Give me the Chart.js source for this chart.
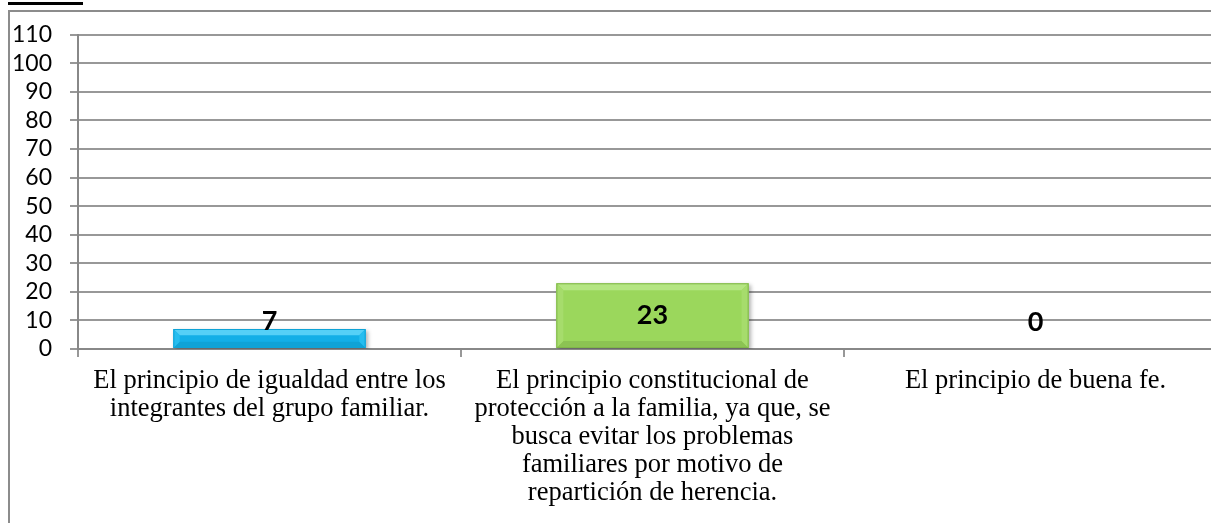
<!DOCTYPE html>
<html>
<head>
<meta charset="utf-8">
<script src="https://cdn.jsdelivr.net/npm/chart.js@4.4.1/dist/chart.umd.min.js"></script>
<style>
  html, body { margin: 0; padding: 0; background: #ffffff; overflow: hidden; width: 1211px; height: 523px; }
  #topbar { position: absolute; left: 8px; top: 2px; width: 75px; height: 3px; background: #000; }
  #frame { position: absolute; left: 8px; top: 10px; width: 1260px; height: 560px; border: 2px solid #8c8c8c; box-sizing: border-box; overflow: hidden; }
  #c { position: absolute; left: 0; top: -9px; }
</style>
</head>
<body>
<div id="topbar"></div>
<div id="frame"><canvas id="c" width="1232" height="560"></canvas></div>
<script>
// ---- data ----
const categories = [
  ["El principio de igualdad entre los", "integrantes del grupo familiar."],
  ["El principio constitucional de", "protección a la familia, ya que, se", "busca evitar los problemas", "familiares por motivo de", "repartición de herencia."],
  ["El principio de buena fe."]
];
const values = [7, 23, 0];
const yMin = 0;
const yMax = 110;
const yStep = 10;

// ---- styles ----
const barFill = ['#13afe7', '#9bd75c', '#9bd75c'];
const bevelTop = ['#55d0f7', '#b4e582', '#b4e582'];
const bevelSide = ['#26bdef', '#a6dc6c', '#a6dc6c'];
const bevelBottom = ['#10a3d6', '#8cc353', '#8cc353'];
const edgeColor = ['#0fa3d6', '#80b64a', '#80b64a'];
const gridColor = '#989898';

const bevelPlugin = {
  id: 'bevel',
  beforeDatasetsDraw(chart) {
    const ctx = chart.ctx;
    ctx.save();
    ctx.shadowColor = 'rgba(0,0,0,0.3)';
    ctx.shadowBlur = 4;
    ctx.shadowOffsetX = 2;
    ctx.shadowOffsetY = 2;
  },
  afterDatasetsDraw(chart) {
    const ctx = chart.ctx;
    ctx.restore();
    const meta = chart.getDatasetMeta(0);
    meta.data.forEach((bar, i) => {
      const p = bar.getProps(['x', 'y', 'base', 'width'], true);
      const h = p.base - p.y;
      const l = p.x - p.width / 2, r = p.x + p.width / 2, t = p.y, b = p.base;
      if (h > 0) {
        const s = Math.min(7, h / 3, p.width / 3);
        const poly = (pts, col) => {
          ctx.beginPath();
          ctx.moveTo(pts[0][0], pts[0][1]);
          for (let k = 1; k < pts.length; k++) ctx.lineTo(pts[k][0], pts[k][1]);
          ctx.closePath();
          ctx.fillStyle = col;
          ctx.fill();
        };
        poly([[l, t], [r, t], [r - s, t + s], [l + s, t + s]], bevelTop[i]);
        poly([[l, b], [r, b], [r - s, b - s], [l + s, b - s]], bevelBottom[i]);
        poly([[l, t], [l + s, t + s], [l + s, b - s], [l, b]], bevelSide[i]);
        poly([[r, t], [r - s, t + s], [r - s, b - s], [r, b]], bevelSide[i]);
        ctx.strokeStyle = edgeColor[i];
        ctx.lineWidth = 1;
        ctx.strokeRect(l + 0.5, t + 0.5, p.width - 1, h - 1);
      }
      // value label
      const cy = Math.min((t + b) / 2, b - 27);
      ctx.fillStyle = '#000000';
      ctx.font = 'bold 27px Lato, "Open Sans", sans-serif';
      ctx.textAlign = 'center';
      ctx.textBaseline = 'middle';
      ctx.fillText(String(values[i]), p.x, cy);
    });
  }
};

new Chart(document.getElementById('c'), {
  type: 'bar',
  data: {
    labels: categories,
    datasets: [{
      data: values,
      backgroundColor: barFill,
      borderWidth: 0,
      categoryPercentage: 1.0,
      barPercentage: 0.502
    }]
  },
  options: {
    responsive: false,
    animation: false,
    devicePixelRatio: 1,
    layout: { padding: { left: 0, right: 15, top: 0, bottom: 14 } },
    plugins: { legend: { display: false }, tooltip: { enabled: false } },
    scales: {
      x: {
        offset: true,
        grid: { offset: true, drawOnChartArea: false, drawTicks: true, tickLength: 8, color: gridColor, lineWidth: 2 },
        border: { display: true, color: '#888888', width: 2 },
        ticks: {
          maxRotation: 0, minRotation: 0, autoSkip: false, padding: 10,
          color: '#000000',
          font: { family: '"Liberation Serif", "Times New Roman", serif', size: 26.5, lineHeight: 1.06 }
        },
        afterFit(scale) { scale.height = 200; }
      },
      y: {
        min: yMin, max: yMax,
        grid: { color: gridColor, lineWidth: 2, drawTicks: true, tickLength: 8 },
        border: { display: true, color: '#888888', width: 2 },
        ticks: {
          stepSize: yStep, autoSkip: false, padding: 18, color: '#000000',
          font: { family: 'Lato, "Open Sans", sans-serif', size: 23 }
        },
        afterFit(scale) { scale.width = 68; }
      }
    }
  },
  plugins: [bevelPlugin]
});
</script>
</body>
</html>
